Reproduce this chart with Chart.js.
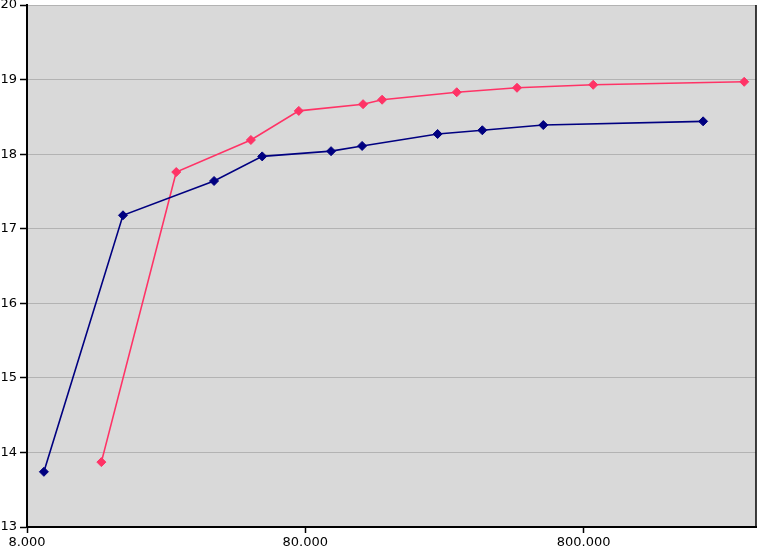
<!DOCTYPE html>
<html>
<head>
<meta charset="utf-8">
<script src="https://cdn.jsdelivr.net/npm/chart.js@4"></script>
<style>
  html, body { margin: 0; padding: 0; background: #fff; }
  #wrap { width: 757px; height: 549px; }
</style>
</head>
<body>
<div id="wrap"><canvas id="chart" width="757" height="549"></canvas></div>
<script>
'use strict';

// Series values
const blueX = [9200, 17700, 37600, 56000, 99000, 128000, 239000, 346000, 573000, 2150000];
const blueY = [13.74, 17.18, 17.64, 17.97, 18.04, 18.11, 18.27, 18.32, 18.39, 18.44];
const pinkX = [14800, 27500, 51000, 75800, 129000, 151000, 280000, 461000, 866000, 3020000];
const pinkY = [13.87, 17.76, 18.19, 18.58, 18.67, 18.73, 18.83, 18.89, 18.93, 18.97];

// Tick labels
const xTicks = [8000, 80000, 800000];
const yMin = 13, yMax = 20;

const font = { family: 'DejaVu Sans', size: 13 };

function pts(xs, ys) { return xs.map((x, i) => ({ x, y: ys[i] })); }

// grey plot background + black right frame
const plotBg = {
  id: 'plotBg',
  beforeDraw(chart) {
    const { ctx, chartArea: a } = chart;
    ctx.save();
    ctx.fillStyle = '#d9d9d9';
    ctx.fillRect(a.left, a.top, a.right - a.left, a.bottom - a.top);
    ctx.restore();
  },
  afterDraw(chart) {
    const { ctx, chartArea: a } = chart;
    ctx.save();
    ctx.strokeStyle = '#000';
    ctx.lineWidth = 1.5;
    ctx.beginPath();
    ctx.moveTo(a.right, a.top);
    ctx.lineTo(a.right, a.bottom);
    ctx.stroke();
    ctx.restore();
  }
};

function series(data, color) {
  return {
    data,
    borderColor: color,
    backgroundColor: color,
    borderWidth: 1.6,
    pointStyle: 'rectRot',
    pointRadius: 4.5,
    pointBorderWidth: 1,
    tension: 0
  };
}

new Chart(document.getElementById('chart').getContext('2d'), {
  type: 'line',
  data: {
    datasets: [
      series(pts(blueX, blueY), '#000080'),
      series(pts(pinkX, pinkY), '#ff3366')
    ]
  },
  options: {
    responsive: false,
    animation: false,
    layout: { autoPadding: false, padding: { top: 5, right: 1, left: 0, bottom: 0 } },
    plugins: { legend: { display: false }, tooltip: { enabled: false } },
    scales: {
      x: {
        type: 'logarithmic',
        min: 8000,
        max: 3330000,
        afterBuildTicks(axis) { axis.ticks = xTicks.map(v => ({ value: v })); },
        afterFit(axis) { axis.height = 22; axis.paddingRight = 0; axis.paddingLeft = 0; },
        grid: { drawOnChartArea: false, tickColor: '#000', tickLength: 6, tickWidth: 1.5 },
        border: { color: '#000', width: 2 },
        ticks: {
          font, color: '#000', padding: 2, maxRotation: 0, autoSkip: false,
          callback: v => v.toLocaleString('de-DE')
        }
      },
      y: {
        min: yMin,
        max: yMax,
        afterFit(axis) { axis.width = 27; axis.paddingTop = 0; },
        grid: { color: '#b3b3b3', lineWidth: 1, tickColor: '#000', tickLength: 7, tickWidth: 1.5 },
        border: { color: '#000', width: 2 },
        ticks: { font, color: '#000', stepSize: 1, padding: 3 }
      }
    }
  },
  plugins: [plotBg]
});
</script>
</body>
</html>
